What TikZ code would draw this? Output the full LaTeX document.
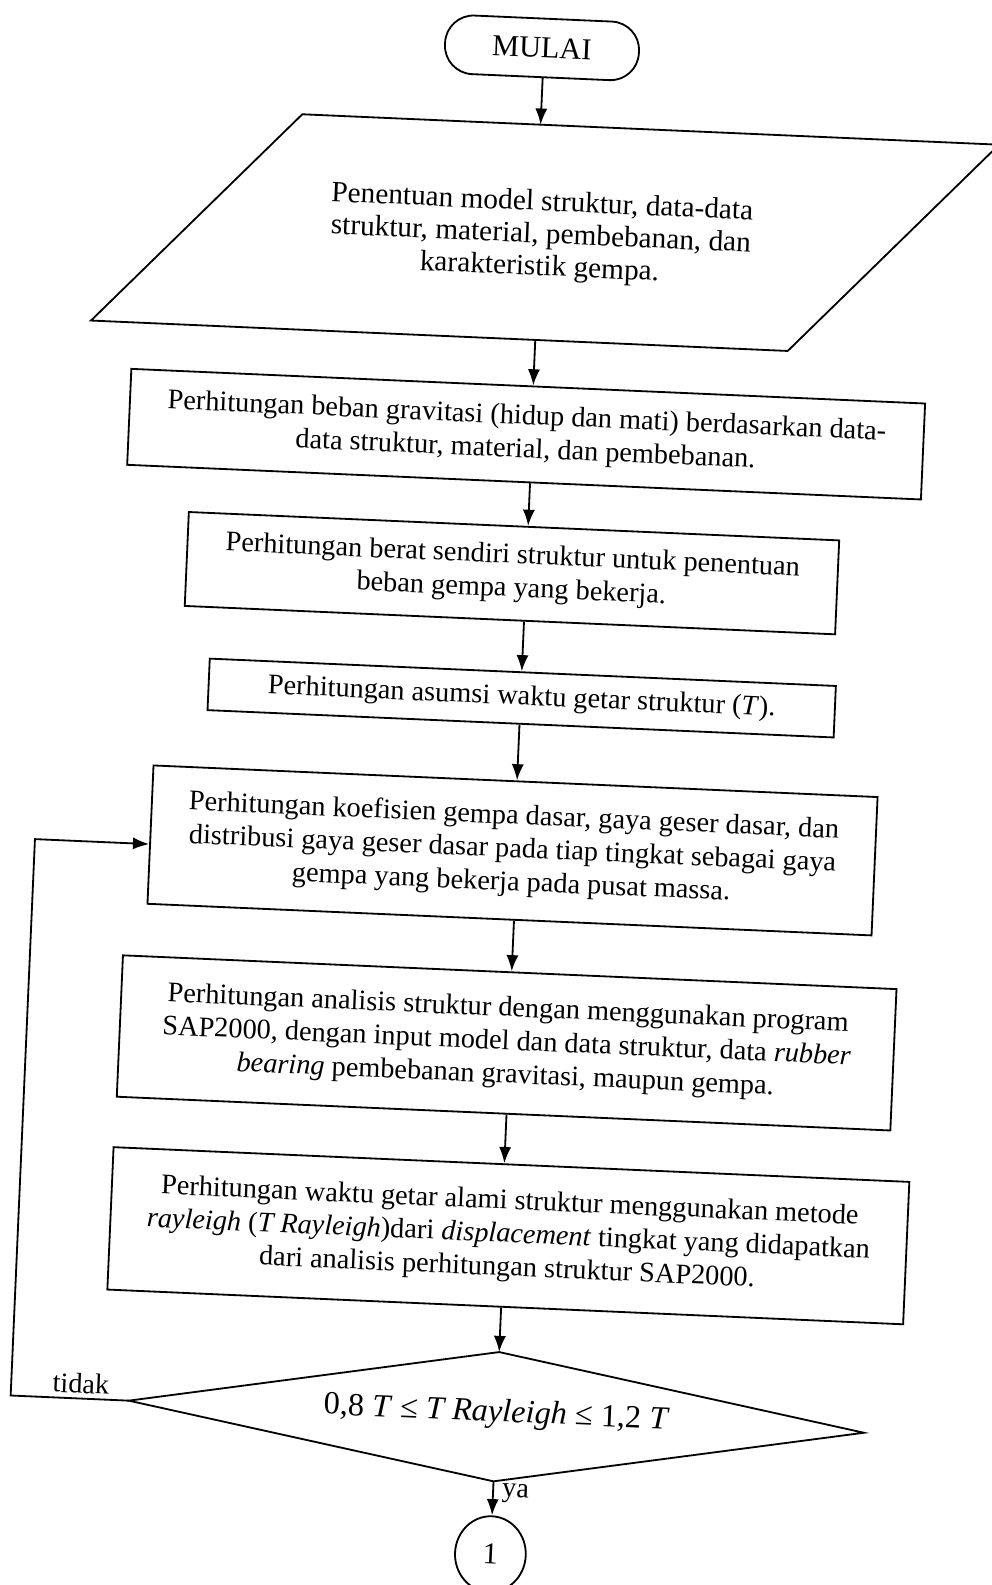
\documentclass[tikz,border=0pt]{standalone}
\usepackage{fontspec}
\setmainfont{Liberation Serif}
\usetikzlibrary{arrows.meta,shapes.geometric}
\begin{document}
\begin{tikzpicture}[x=0.5pt,y=-0.5pt,
  line width=0.9pt,
  box/.style={draw, align=center, inner sep=0pt, font=\fontsize{14}{16.5}\selectfont},
  arr/.style={draw, -{Latex[length=8pt,width=6pt]}},
  lbl/.style={font=\fontsize{14}{16}\selectfont, inner sep=0pt}]
\useasboundingbox (0,0) rectangle (981,1568);
\begin{scope}[rotate around={-2.5:(490,784)}, transform shape]
% start
\node[box, rounded corners=14pt, minimum width=96pt, minimum height=29pt,
      font=\fontsize{15}{17}\selectfont] (mulai) at (504,46) {MULAI};
% parallelogram
\coordinate (pTL) at (270,122);
\coordinate (pTR) at (960,122);
\coordinate (pBR) at (760,335);
\coordinate (pBL) at (70,335);
\coordinate (pT) at (514,122);
\coordinate (pB) at (514,335);
\draw (pTL) -- (pTR) -- (pBR) -- (pBL) -- cycle;
\node[lbl, align=center, font=\fontsize{14.5}{16}\selectfont] (para) at (511,232)
  {Penentuan model struktur, data-data\\ struktur, material, pembebanan, dan\\ karakteristik gempa.};
% process boxes
\node[box, minimum width=393pt, minimum height=47.5pt] (box1) at (505,428.5)
  {Perhitungan beban gravitasi (hidup dan mati) berdasarkan data-\\ data struktur, material, dan pembebanan.};
\node[box, minimum width=322pt, minimum height=46.5pt] (box2) at (497,566.5)
  {Perhitungan berat sendiri struktur untuk penentuan\\ beban gempa yang bekerja.};
\node[box, minimum width=310pt, minimum height=25.5pt] (box3) at (512,689.5)
  {Perhitungan asumsi waktu getar struktur (\textit{T}).};
\node[box, minimum width=358.5pt, minimum height=68.5pt] (box4) at (509.5,840.5)
  {Perhitungan koefisien gempa dasar, gaya geser dasar, dan\\ distribusi gaya geser dasar pada tiap tingkat sebagai gaya\\ gempa yang bekerja pada pusat massa.};
\node[box, minimum width=383pt, minimum height=70pt] (box5) at (512,1031)
  {Perhitungan analisis struktur dengan menggunakan program\\ SAP2000, dengan input model dan data struktur, data \textit{rubber}\\ \textit{bearing} pembebanan gravitasi, maupun gempa.};
\node[box, minimum width=394pt, minimum height=70.5pt] (box6) at (522,1221.5)
  {Perhitungan waktu getar alami struktur menggunakan metode\\ \textit{rayleigh} (\textit{T Rayleigh})dari \textit{displacement} tingkat yang didapatkan\\ dari analisis perhitungan struktur SAP2000.};
% decision
\coordinate (dT) at (518,1337);
\coordinate (dR) at (882,1401);
\coordinate (dB) at (518,1465);
\coordinate (dL) at (154,1401);
\draw (dT) -- (dR) -- (dB) -- (dL) -- cycle;
\node[lbl, font=\fontsize{16}{18}\selectfont] (dec) at (518,1398)
  {0,8 \textit{T} ≤ \textit{T Rayleigh} ≤ 1,2 \textit{T}};
% connector
\node[draw, ellipse, minimum width=35pt, minimum height=37.5pt, inner sep=0pt,
      font=\fontsize{15}{17}\selectfont] (one) at (518,1537) {1};
% labels
\node[lbl] (tidak) at (106,1386) {tidak};
\node[lbl, anchor=west] (ya) at (526,1476) {ya};
% arrow x positions
\coordinate (a0) at (506,0);
\coordinate (a1) at (510,0);
\coordinate (a2) at (511,0);
\coordinate (a5) at (514,0);
\coordinate (a6) at (515,0);
\draw[arr] (mulai.south -| a0) -- (pT -| a0);
\draw[arr] (pB -| a1) -- (box1.north -| a1);
\draw[arr] (box1.south -| a2) -- (box2.north -| a2);
\draw[arr] (box2.south -| a2) -- (box3.north -| a2);
\draw[arr] (box3.south -| a2) -- (box4.north -| a2);
\draw[arr] (box4.south -| a5) -- (box5.north -| a5);
\draw[arr] (box5.south -| a6) -- (box6.north -| a6);
\draw[arr] (box6.south -| dT) -- (dT);
\draw[arr] (dB) -- (one.north);
% loop back
\coordinate (lp1) at (37,1401);
\coordinate (lp2) at (37,850);
\draw[arr] (dL) -- (lp1) -- (lp2) -- (lp2 -| box4.west);
\end{scope}
\end{tikzpicture}
\end{document}
